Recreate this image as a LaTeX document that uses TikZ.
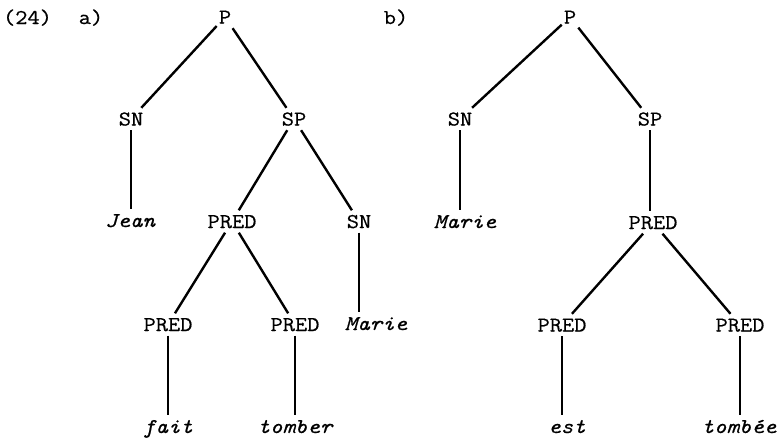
\documentclass[tikz,border=0pt]{standalone}
\usepackage{fontspec}
\newfontfamily\tw{Latin Modern Mono}[FakeStretch=1.13,FakeBold=0.6]
\begin{document}
\begin{tikzpicture}[x=1pt,y=-1pt,
  every node/.style={font=\tw\fontsize{21}{24}\selectfont},
  lab/.style={anchor=base, inner sep=0pt},
  nt/.style={anchor=base, text height=13pt, text depth=0pt, inner xsep=2pt, inner ysep=4.5pt},
  wd/.style={nt, font=\tw\fontsize{21}{24}\selectfont\itshape},
  edge/.style={line width=2.4pt}]
\useasboundingbox (0,0) rectangle (781,440);
% labels
\node[lab] (n24) at (27.5,24) {(24)};
\node[lab] (la) at (91,24) {a)};
\node[lab] (lb) at (396,24) {b)};
% tree a
\node[nt] (aP) at (225,23.5) {P};
\node[nt] (aSN) at (131,125.5) {SN};
\node[nt] (aSP) at (294,125.5) {SP};
\node[wd] (aJean) at (130,227) {Jean};
\node[nt] (aPRED) at (232,228) {PRED};
\node[nt] (aSNb) at (359,228) {SN};
\node[nt] (aPREDl) at (168,331) {PRED};
\node[nt] (aPREDr) at (295,331) {PRED};
\node[wd] (aMarie) at (376,330) {Marie};
\node[wd] (afait) at (168,433) {fait};
\node[wd] (atomber) at (295,433) {tomber};
% tree b
\node[nt] (bP) at (570,23.5) {P};
\node[nt] (bSN) at (460,125.5) {SN};
\node[nt] (bSP) at (650,125.5) {SP};
\node[wd] (bMarie) at (465,228) {Marie};
\node[nt] (bPRED) at (653,229) {PRED};
\node[nt] (bPREDl) at (562,331.5) {PRED};
\node[nt] (bPREDr) at (740,331.5) {PRED};
\node[wd] (best) at (567,433) {est};
\node[wd] (btombee) at (739,433) {tombée};
% edges a
\draw[edge] (aP) -- (aSN);
\draw[edge] (aP) -- (aSP);
\draw[edge] (aSN.south) -- (aSN.south |- aJean.north);
\draw[edge] (aSP) -- (aPRED);
\draw[edge] (aSP) -- (aSNb);
\draw[edge] (aPRED) -- (aPREDl);
\draw[edge] (aPRED) -- (aPREDr);
\draw[edge] (aSNb.south) -- (aSNb.south |- aMarie.north);
\draw[edge] (aPREDl.south) -- (aPREDl.south |- afait.north);
\draw[edge] (aPREDr.south) -- (aPREDr.south |- atomber.north);
% edges b
\draw[edge] (bP) -- (bSN);
\draw[edge] (bP) -- (bSP);
\draw[edge] (bSN.south) -- (bSN.south |- bMarie.north);
\draw[edge] (bSP.south) -- (bSP.south |- bPRED.north);
\draw[edge] (bPRED) -- (bPREDl);
\draw[edge] (bPRED) -- (bPREDr);
\draw[edge] (bPREDl.south) -- (bPREDl.south |- best.north);
\draw[edge] (bPREDr.south) -- (bPREDr.south |- btombee.north);
\end{tikzpicture}
\end{document}
